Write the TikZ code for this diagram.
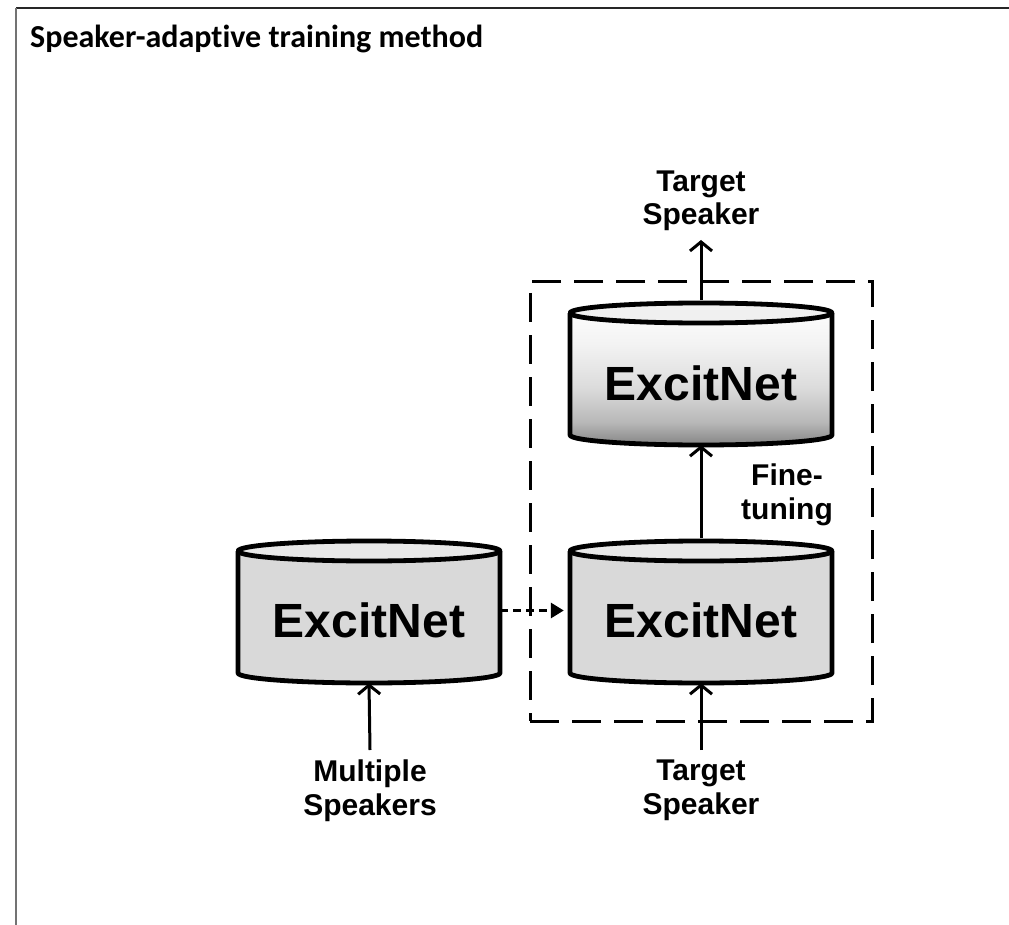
\documentclass[tikz,border=0pt]{standalone}
\usepackage{fontspec}
\setmainfont{Liberation Sans}
\newfontfamily\titlefont[Ligatures=NoCommon]{Carlito}
\usetikzlibrary{arrows.meta}
\pgfdeclareverticalshading{cylshade}{100bp}{color(0bp)=(black!48); color(25bp)=(black!48); color(33bp)=(black!28); color(45bp)=(black!14); color(60bp)=(black!5); color(75bp)=(white); color(100bp)=(white)}
\newcommand\drawcyl[5]{%
  \path[#4] (#1-131,#2) -- (#1-131,#3) arc[start angle=180,end angle=0,x radius=131,y radius=10] -- (#1+131,#2) arc[start angle=0,end angle=-180,x radius=131,y radius=10] -- cycle;
  \draw[cylline] (#1-131,#2) -- (#1-131,#3) arc[start angle=180,end angle=0,x radius=131,y radius=10] -- (#1+131,#2);
  \filldraw[cylline,fill=#5] (#1,#2) ellipse[x radius=131,y radius=10];
}
\begin{document}
\begin{tikzpicture}[x=1pt,y=-1pt,
  cylline/.style={line width=4.8pt,line join=round},
  cylbox/.style={draw=none,inner sep=0pt,minimum width=262pt,minimum height=#1},
  bigtext/.style={font=\bfseries\fontsize{48}{52}\selectfont,inner sep=0pt,anchor=base},
  lbl/.style={font=\bfseries\fontsize{30}{33.5}\selectfont,align=center,inner sep=0pt},
  conn/.style={line width=3pt,-{Straight Barb[length=9pt,width=22pt]}},
  dconn/.style={line width=3pt,dash pattern=on 8pt off 5pt,-{Triangle[length=13pt,width=15pt]}},
  grpbox/.style={draw,line width=3pt,dash pattern=on 29pt off 13pt,inner sep=0pt,minimum width=342pt,minimum height=439pt}
]
\useasboundingbox (0,0) rectangle (1009,925);
\draw[line width=2pt,black!85] (16,8) -- (1009,8);
\draw[line width=2pt,black!55] (16,8) -- (16,925);
\node[anchor=base west,font=\titlefont\bfseries\fontsize{32}{38}\selectfont,inner sep=0pt] (title) at (30,48) {Speaker-adaptive training method};

% dashed group box
\node[grpbox] (grp) at (701,501.5) {};

% cylinders
\drawcyl{369}{551}{673}{fill=black!15}{black!9}
\drawcyl{701}{551}{673}{fill=black!15}{black!9}
\drawcyl{701}{313}{435}{shading=cylshade}{black!6}
\node[cylbox=145pt] (L) at (369,538+72.5) {};
\node[cylbox=145pt] (R) at (701,538+72.5) {};
\node[cylbox=145pt] (U) at (701,300+72.5) {};
\node[bigtext] (Lt) at (369,637) {ExcitNet};
\node[bigtext] (Rt) at (701,637) {ExcitNet};
\node[bigtext] (Ut) at (701,400) {ExcitNet};

% labels
\node[lbl,anchor=south] (tsU) at (701,231) {Target\\Speaker};
\node[lbl,anchor=north] (ms) at (370,760) {Multiple\\Speakers};
\node[lbl,anchor=north] (tsB) at (701,760) {Target\\Speaker};
\node[lbl,anchor=north] (ft) at (787,464) {Fine-\\tuning};

% connectors
\draw[conn] (U.north) -- ([yshift=-9pt]tsU.south);
\draw[conn] (R.north) -- (U.south);
\draw[dconn] (L.east) -- ([xshift=-6pt]R.west);
\draw[conn] ([yshift=10pt]ms.north) -- (L.south);
\draw[conn] ([yshift=10pt]tsB.north) -- (R.south);
\end{tikzpicture}
\end{document}
